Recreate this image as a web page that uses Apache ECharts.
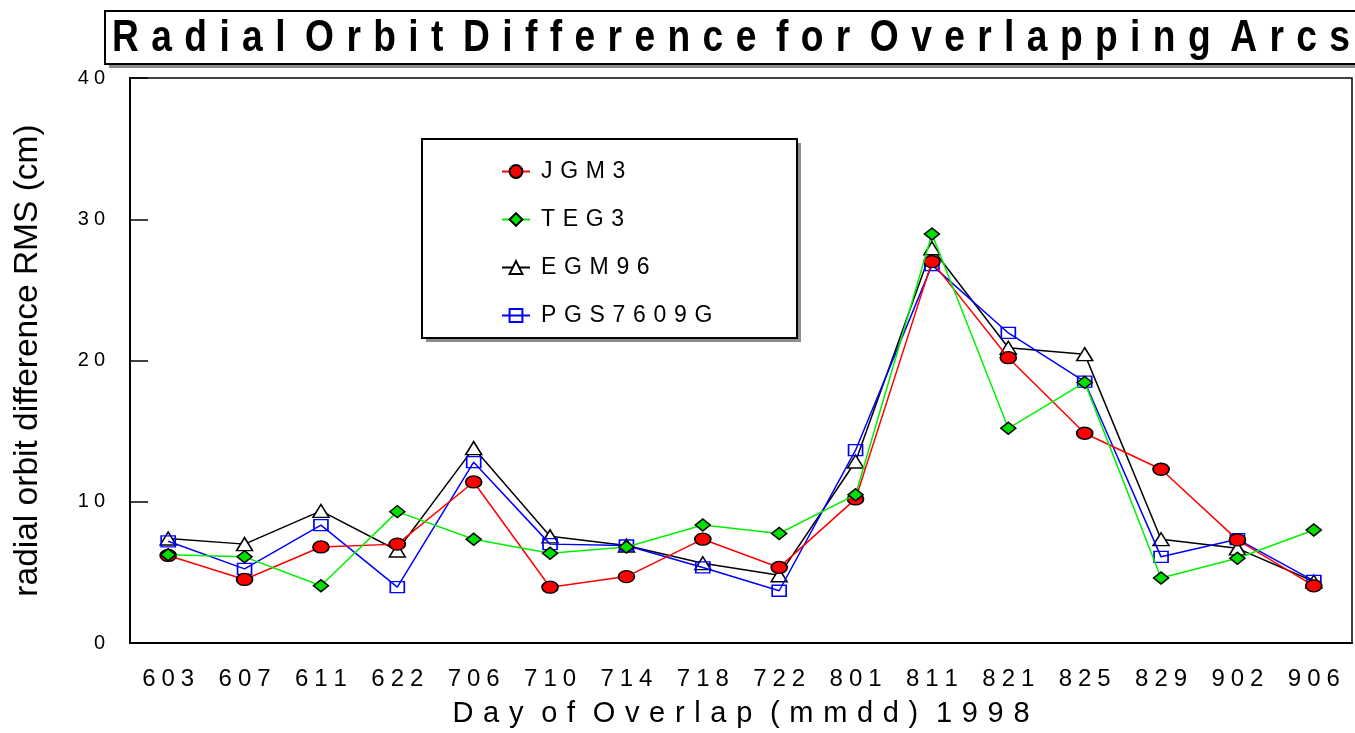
<!DOCTYPE html>
<html>
<head>
<meta charset="utf-8">
<script src="https://cdn.jsdelivr.net/npm/echarts@6/dist/echarts.min.js"></script>
<style>
  html, body { margin: 0; padding: 0; background: #fff; }
  #chart { width: 1355px; height: 733px; }
</style>
</head>
<body>
<div id="chart"></div>
<script>
// Day of overlap (mmdd), 1998
const days = ['603', '607', '611', '622', '706', '710', '714', '718', '722', '801', '811', '821', '825', '829', '902', '906'];

// Radial orbit difference RMS (cm) per gravity model
const jgm3     = [6.2, 4.5, 6.8, 7.0, 11.4, 3.95, 4.7, 7.35, 5.35, 10.2, 27.0, 20.2, 14.85, 12.3, 7.3, 4.05];
const teg3     = [6.25, 6.1, 4.05, 9.3, 7.35, 6.35, 6.8, 8.35, 7.75, 10.5, 28.95, 15.2, 18.45, 4.6, 6.0, 8.0];
const egm96    = [7.4, 7.0, 9.35, 6.55, 13.8, 7.55, 6.9, 5.65, 4.8, 12.85, 27.95, 20.9, 20.45, 7.35, 6.7, 4.35];
const pgs7609g = [7.2, 5.25, 8.35, 3.95, 12.8, 7.0, 6.9, 5.35, 3.7, 13.65, 26.75, 21.95, 18.5, 6.1, 7.35, 4.4];

const modelNames = ['JGM3', 'TEG3', 'EGM96', 'PGS7609G'];
const yTicks = [0, 10, 20, 30, 40];

const titleText = 'Radial Orbit Difference for Overlapping Arcs';

// wide tracking: a fixed-width space between letters, a wider one between words
function track(s, gap, wordGap) {
  return String(s).split(' ').map(w => Array.from(w).join(gap)).join(wordGap || (' ' + gap));
}

const FONT = "'Liberation Sans', Arial, sans-serif";
const TITLE_FONT = "bold 44px 'Liberation Sans', Arial, sans-serif";
const titleLabel = track(titleText, '\u2004', ' \u2005');

// squeeze the banner text horizontally so it spans the heading box
const measureCtx = document.createElement('canvas').getContext('2d');
measureCtx.font = TITLE_FONT;
const titleWidth = measureCtx.measureText(titleLabel).width || 1460;
const titleScale = 1238 / titleWidth;

const chart = echarts.init(document.getElementById('chart'), null, { renderer: 'canvas' });

function lineSeries(name, data, opts) {
  return Object.assign({
    name: name,
    type: 'line',
    data: data,
    showAllSymbol: true,
    animation: false,
    lineStyle: { width: 1.5, color: opts.line },
    itemStyle: { color: opts.fill, borderColor: opts.border, borderWidth: 1.5 },
    emphasis: { disabled: true }
  }, opts.extra);
}

chart.setOption({
  animation: false,
  graphic: [
    // heading box with drop shadow
    { type: 'rect', z: 0, silent: true, shape: { x: 109, y: 15, width: 1300, height: 53 }, style: { fill: '#8c8c8c' } },
    { type: 'rect', z: 1, silent: true, shape: { x: 105, y: 11, width: 1300, height: 53 }, style: { fill: '#fff', stroke: '#000', lineWidth: 2 } },
    {
      type: 'text', z: 2, silent: true,
      x: 112, y: 39, scaleX: titleScale, scaleY: 1,
      style: { text: titleLabel, font: TITLE_FONT, fill: '#000', align: 'left', verticalAlign: 'middle' }
    },
    // legend frame with drop shadow
    { type: 'rect', z: 0, silent: true, shape: { x: 426, y: 143, width: 375, height: 199 }, style: { fill: '#8c8c8c' } },
    { type: 'rect', z: 1, silent: true, shape: { x: 422, y: 139, width: 375, height: 199 }, style: { fill: '#fff', stroke: '#000', lineWidth: 2 } }
  ],
  legend: {
    orient: 'vertical',
    left: 501,
    top: 160,
    padding: 0,
    z: 10,
    itemWidth: 28,
    itemHeight: 16,
    itemGap: 25,
    data: modelNames,
    formatter: name => track(name, '\u2004'),
    textStyle: { fontFamily: FONT, fontSize: 23, color: '#000', padding: [0, 0, 0, 6] }
  },
  grid: {
    left: 130,
    right: 3,
    top: 78,
    bottom: 90,
    show: true,
    borderColor: '#000',
    borderWidth: 1.5,
    backgroundColor: 'transparent'
  },
  xAxis: {
    type: 'category',
    data: days,
    boundaryGap: true,
    name: track('Day of Overlap (mmdd) 1998', '\u2004'),
    nameLocation: 'middle',
    nameGap: 56,
    nameTextStyle: { fontFamily: FONT, fontSize: 29, color: '#000' },
    axisLine: { lineStyle: { color: '#000', width: 2 } },
    axisTick: { inside: true, alignWithLabel: true, length: 11, lineStyle: { color: '#000', width: 1.5 } },
    axisLabel: {
      interval: 0,
      margin: 24,
      fontFamily: FONT,
      fontSize: 24,
      color: '#000',
      formatter: v => track(v, '\u2005')
    },
    splitLine: { show: false }
  },
  yAxis: {
    type: 'value',
    min: yTicks[0],
    max: yTicks[yTicks.length - 1],
    interval: 10,
    name: 'radial orbit difference RMS (cm)',
    nameLocation: 'middle',
    nameGap: 85,
    nameTextStyle: { fontFamily: FONT, fontSize: 33.5, color: '#000' },
    axisLine: { show: true, lineStyle: { color: '#000', width: 2 } },
    axisTick: { show: true, inside: true, length: 18, lineStyle: { color: '#000', width: 1.5 } },
    axisLabel: {
      margin: 25,
      fontFamily: FONT,
      fontSize: 20,
      color: '#000',
      formatter: v => track(v, '\u2005')
    },
    splitLine: { show: false }
  },
  series: [
    lineSeries('JGM3', jgm3, {
      line: '#ff0000', fill: '#ff0000', border: '#000',
      extra: { symbol: 'circle', symbolSize: [16, 12], z: 4 }
    }),
    lineSeries('TEG3', teg3, {
      line: '#00f000', fill: '#00e000', border: '#000',
      extra: { symbol: 'diamond', symbolSize: [15, 12], z: 5 }
    }),
    lineSeries('EGM96', egm96, {
      line: '#000', fill: '#fff', border: '#000',
      extra: { symbol: 'triangle', symbolSize: [16, 13], z: 2 }
    }),
    lineSeries('PGS7609G', pgs7609g, {
      line: '#0000ff', fill: 'rgba(255,255,255,0)', border: '#0000ff',
      extra: { symbol: 'rect', symbolSize: [14, 11], z: 3 }
    })
  ]
});
</script>
</body>
</html>
